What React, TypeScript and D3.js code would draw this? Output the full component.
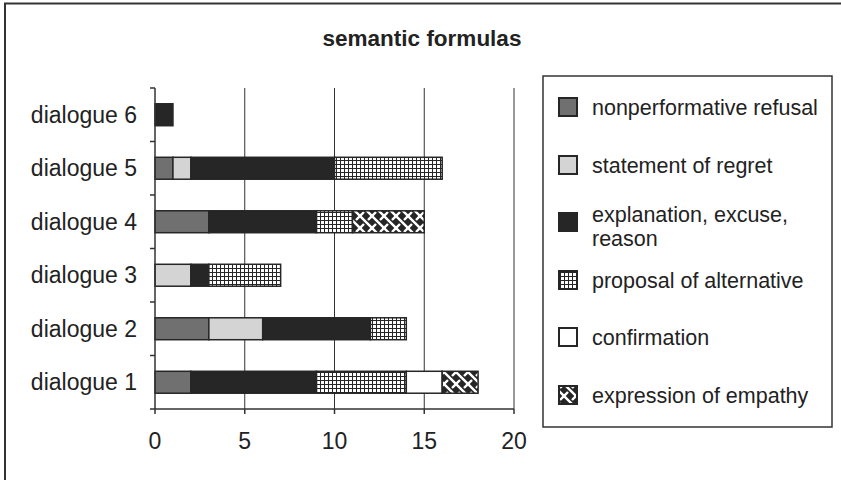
import React from 'react';
import * as d3 from 'd3';

// values, dialogue 1 .. dialogue 6
const categories = ['dialogue 1', 'dialogue 2', 'dialogue 3', 'dialogue 4', 'dialogue 5', 'dialogue 6'];
const nonperformative = [2, 3, 0, 3, 1, 0];
const regret = [0, 3, 2, 0, 1, 0];
const explanation = [7, 6, 1, 6, 8, 1];
const proposal = [5, 2, 4, 2, 6, 0];
const confirmation = [2, 0, 0, 0, 0, 0];
const empathy = [2, 0, 0, 4, 0, 0];
const seriesKeys = ['nonperf', 'regret', 'explanation', 'proposal', 'confirmation', 'empathy'];
const seriesLabels = [
  ['nonperformative refusal'],
  ['statement of regret'],
  ['explanation, excuse,', 'reason'],
  ['proposal of alternative'],
  ['confirmation'],
  ['expression of empathy'],
];
const xTicks = [0, 5, 10, 15, 20];

const W = 841;
const H = 480;
const plotLeft = 155;
const plotRight = 514;
const plotTop = 88;
const plotBottom = 409;
const font = 'Liberation Sans, Arial, sans-serif';
const ink = '#262626';

const fills: Record<string, string> = {
  nonperf: '#707070',
  regret: '#d4d4d4',
  explanation: '#262626',
  proposal: 'url(#gridPat)',
  confirmation: '#ffffff',
  empathy: 'url(#weavePat)',
};

export default function App() {
  const rows = categories.map((c, i) => ({
    cat: c,
    nonperf: nonperformative[i],
    regret: regret[i],
    explanation: explanation[i],
    proposal: proposal[i],
    confirmation: confirmation[i],
    empathy: empathy[i],
  }));
  const stacked = d3.stack<any>().keys(seriesKeys)(rows);

  const x = d3.scaleLinear().domain([0, 20]).range([plotLeft, plotRight]);
  const y = d3
    .scaleBand()
    .domain(categories.slice().reverse())
    .range([plotTop, plotBottom])
    .paddingInner(0.59)
    .paddingOuter(0.295);
  const step = y.step();

  const legendY = [107, 165, 222, 280, 337, 395];

  return (
    <svg width={W} height={H} style={{ position: 'absolute', left: 0, top: 0, background: '#fff' }} fontFamily={font}>
      <defs>
        <pattern id="gridPat" width={4} height={4} patternUnits="userSpaceOnUse">
          <rect width={4} height={4} fill={ink} />
          <rect x={1} y={1} width={3} height={3} fill="#fff" />
        </pattern>
        <pattern id="weavePat" width={12} height={12} patternUnits="userSpaceOnUse">
          <rect width={12} height={12} fill={ink} />
          <g stroke="#fff" strokeWidth={2.4} fill="none">
            <path d="M0,0L12,12M11,-1L13,1M-1,11L1,13" />
            <path d="M12,0L8,4M4,8L0,12M-1,1L1,-1M11,13L13,11" />
          </g>
        </pattern>
      </defs>

      {/* outer frame, cut off at right and bottom */}
      <rect x={5} y={3.5} width={W + 20} height={H + 20} fill="none" stroke="#333" strokeWidth={2} />

      <text x={422} y={46} textAnchor="middle" fontSize={22.5} fontWeight="bold" fill="#222">
        semantic formulas
      </text>

      {/* gridlines */}
      {xTicks.slice(1).map((t) => (
        <line key={t} x1={x(t)} x2={x(t)} y1={plotTop} y2={plotBottom} stroke="#333" strokeWidth={1} />
      ))}

      {/* bars */}
      {stacked.map((s) => (
        <g key={s.key}>
          {s.map((d, i) =>
            d[1] - d[0] > 0 ? (
              <rect
                key={i}
                x={x(d[0])}
                y={y(categories[i])}
                width={x(d[1]) - x(d[0])}
                height={y.bandwidth()}
                fill={fills[s.key]}
                stroke={ink}
                strokeWidth={1.5}
              />
            ) : null
          )}
        </g>
      ))}

      {/* y axis */}
      <line x1={plotLeft} x2={plotLeft} y1={plotTop} y2={plotBottom} stroke="#333" strokeWidth={1.5} />
      {d3.range(categories.length + 1).map((i) => (
        <line key={i} x1={plotLeft - 5} x2={plotLeft} y1={plotTop + i * step} y2={plotTop + i * step} stroke="#333" strokeWidth={1.5} />
      ))}
      {categories.map((c) => (
        <text key={c} x={137} y={(y(c) ?? 0) + y.bandwidth() / 2} dy="0.35em" textAnchor="end" fontSize={23} fill="#222">
          {c}
        </text>
      ))}

      {/* x axis */}
      <line x1={plotLeft} x2={plotRight} y1={plotBottom} y2={plotBottom} stroke="#333" strokeWidth={1.5} />
      {xTicks.map((t) => (
        <g key={t}>
          <line x1={x(t)} x2={x(t)} y1={plotBottom} y2={plotBottom + 5} stroke="#333" strokeWidth={1.5} />
          <text x={x(t)} y={449} textAnchor="middle" fontSize={23} fill="#222">
            {t}
          </text>
        </g>
      ))}

      {/* legend */}
      <rect x={543} y={76} width={289} height={351} fill="#fff" stroke="#333" strokeWidth={1.5} />
      {seriesKeys.map((k, i) => (
        <g key={k}>
          <rect x={559} y={legendY[i] - 9} width={18} height={18} fill={fills[k]} stroke={ink} strokeWidth={2} />
          {seriesLabels[i].map((line, j) => (
            <text
              key={j}
              x={592}
              y={legendY[i] + (j - (seriesLabels[i].length - 1) / 2) * 24 + (seriesLabels[i].length > 1 ? 4 : 0)}
              dy="0.35em"
              fontSize={21.5}
              fill="#222"
            >
              {line}
            </text>
          ))}
        </g>
      ))}
    </svg>
  );
}
